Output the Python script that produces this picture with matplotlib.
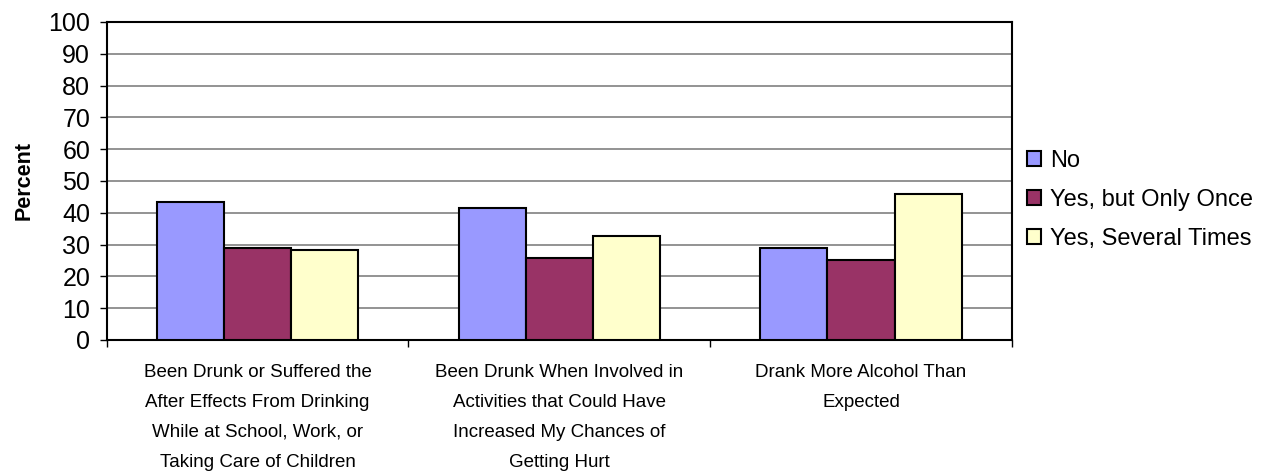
import numpy as np
import matplotlib
matplotlib.use("Agg")
import matplotlib.pyplot as plt

plt.rcParams['font.family'] = ['Liberation Sans', 'DejaVu Sans']

categories = [
    "Been Drunk or Suffered the\nAfter Effects From Drinking\nWhile at School, Work, or\nTaking Care of Children",
    "Been Drunk When Involved in\nActivities that Could Have\nIncreased My Chances of\nGetting Hurt",
    "Drank More Alcohol Than\nExpected",
]
series_names = ["No", "Yes, but Only Once", "Yes, Several Times"]
no_vals = [43.3, 41.4, 28.8]
once_vals = [28.8, 25.7, 25.2]
several_vals = [28.3, 32.7, 45.9]
colors = ["#9999FF", "#993366", "#FFFFCC"]

fig = plt.figure(figsize=(12.64, 4.72), dpi=100)
ax = fig.add_axes([0.0845, 0.2797, 0.716, 0.6737])

x = np.arange(len(categories))
w = 1 / 4.5
for i, (name, vals) in enumerate(zip(series_names, [no_vals, once_vals, several_vals])):
    ax.bar(x + (i - 1) * w, vals, width=w, color=colors[i], edgecolor="black",
           linewidth=1.5, label=name, zorder=3)

ax.set_xlim(-0.5, 2.5)
ax.set_ylim(0, 100)
ax.set_yticks(range(0, 101, 10))
ax.yaxis.grid(True, color="#808080", linewidth=1.2, zorder=0)
ax.tick_params(axis="y", labelsize=18, length=5, width=1, direction="out", pad=7)

ax.set_xticks(x)
ax.set_xticklabels(categories, fontsize=13.5, linespacing=2.0)
ax.set_xticks([-0.5, 0.5, 1.5, 2.5], minor=True)
ax.tick_params(axis="x", which="major", length=0, pad=17)
ax.tick_params(axis="x", which="minor", length=5, width=1, direction="out")

for s in ax.spines.values():
    s.set_linewidth(1.5)
    s.set_color("black")

ax.set_ylabel("Percent", fontsize=15.5, fontweight="bold", labelpad=10)

ax.legend(loc="center left", bbox_to_anchor=(1.011, 0.44), frameon=False,
          fontsize=17, handlelength=0.6, handleheight=0.6, handletextpad=0.4,
          labelspacing=0.72, borderaxespad=0.0, borderpad=0.2)

fig.savefig("out.png", dpi=100)
